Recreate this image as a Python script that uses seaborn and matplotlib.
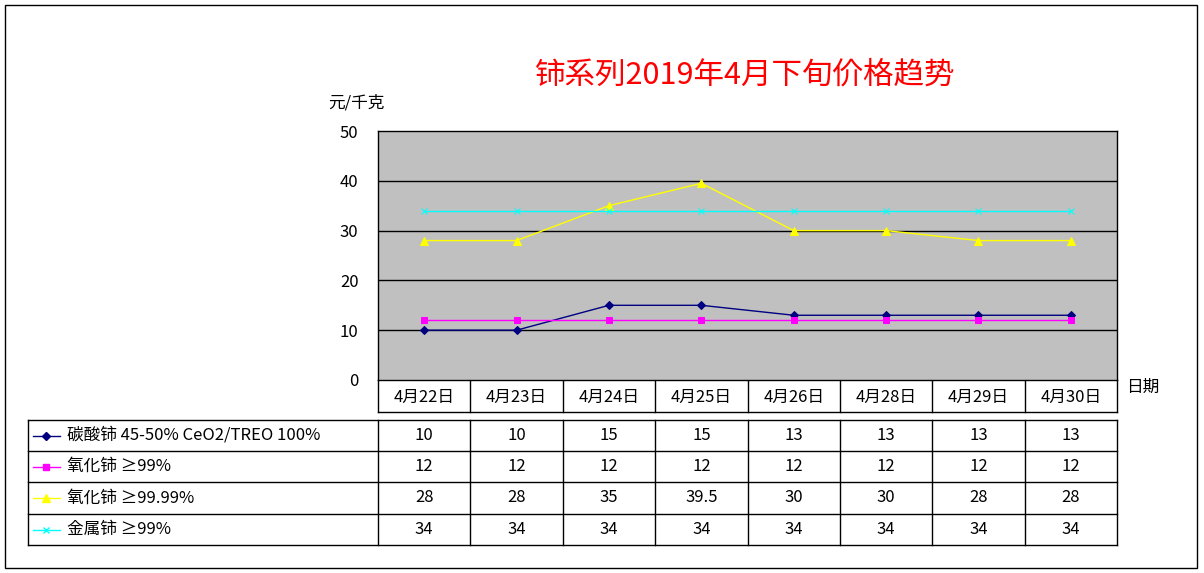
import matplotlib
matplotlib.use("Agg")
import matplotlib.pyplot as plt
from matplotlib import font_manager as fm
import seaborn as sns
import pandas as pd

dates = ["4月22日","4月23日","4月24日","4月25日","4月26日","4月28日","4月29日","4月30日"]
series_names = ["碳酸铈 45-50% CeO2/TREO 100%", "氧化铈 ≥99%", "氧化铈 ≥99.99%", "金属铈 ≥99%"]
ce_carbonate = [10,10,15,15,13,13,13,13]
ce_oxide_99 = [12,12,12,12,12,12,12,12]
ce_oxide_9999 = [28,28,35,39.5,30,30,28,28]
ce_metal = [34,34,34,34,34,34,34,34]
value_labels = [["10","10","15","15","13","13","13","13"],
                ["12"]*8,
                ["28","28","35","39.5","30","30","28","28"],
                ["34"]*8]
colors = ["#000080","#FF00FF","#FFFF00","#00FFFF"]
markers = ["D","s","^","x"]
msizes = [4,5,6,5]

cjk = [f.name for f in fm.fontManager.ttflist if "CJK" in f.name]
pref = [n for n in cjk if "SC" in n] or cjk
fam = pref[0] if pref else "DejaVu Sans"
plt.rcParams["font.family"] = [fam, "DejaVu Sans"]

W,H = 1204,573
fig = plt.figure(figsize=(W/100,H/100), dpi=100)
fig.patch.set_facecolor("white")

ov = fig.add_axes([0,0,1,1])
ov.set_xlim(0,W); ov.set_ylim(H,0); ov.axis("off")
ov.add_patch(plt.Rectangle((5,5),1192,563,fill=False,ec="black",lw=1))

x0,x1,yt,yb = 378,1117,131,380
ax = fig.add_axes([x0/W,1-yb/H,(x1-x0)/W,(yb-yt)/H])
ax.set_facecolor("#C0C0C0")
df = pd.DataFrame({"x":list(range(8))*4,
                   "v":ce_carbonate+ce_oxide_99+ce_oxide_9999+ce_metal,
                   "s":sum([[n]*8 for n in series_names],[])})
for i,n in enumerate(series_names):
    d = df[df.s==n]
    sns.lineplot(data=d,x="x",y="v",ax=ax,color=colors[i],marker=markers[i],
                 markersize=msizes[i],markeredgecolor=colors[i],lw=1,legend=False)
ax.set_xlim(-0.5,7.5); ax.set_ylim(0,50)
ax.set_yticks([0,10,20,30,40,50])
ax.set_yticklabels(["0","10","20","30","40","50"],fontsize=12)
ax.tick_params(axis="y",length=0,pad=14)
ax.set_xticks([]); ax.set_xlabel(""); ax.set_ylabel("")
for y in [10,20,30,40]:
    ax.axhline(y,color="black",lw=1,zorder=0)
for s in ax.spines.values():
    s.set_color("black"); s.set_linewidth(1)

fig.text(745/W,1-75/H,"铈系列2019年4月下旬价格趋势",color="#FF0000",fontsize=22,
         ha="center",va="center")
fig.text(356/W,1-103/H,"元/千克",fontsize=12,ha="center",va="center")
fig.text(1143/W,1-387/H,"日期",fontsize=12,ha="center",va="center")

cw = (x1-x0)/8
ov.plot([x0,x1],[412,412],color="black",lw=1)
for k in range(9):
    ov.plot([x0+k*cw]*2,[380,412],color="black",lw=1)
for k,dl in enumerate(dates):
    ov.text(x0+(k+0.5)*cw,397,dl,ha="center",va="center",fontsize=12)
rows = [420,451,482,514,545]
for y in rows:
    ov.plot([28,x1],[y,y],color="black",lw=1)
ov.plot([28,28],[420,545],color="black",lw=1)
for k in range(9):
    ov.plot([x0+k*cw]*2,[420,545],color="black",lw=1)
for r,n in enumerate(series_names):
    yc = (rows[r]+rows[r+1])/2
    ov.plot([33,60],[yc,yc],color=colors[r],lw=1)
    ov.plot([46],[yc],marker=markers[r],color=colors[r],markersize=msizes[r])
    ov.text(67,yc,n,ha="left",va="center",fontsize=12)
    for k,v in enumerate(value_labels[r]):
        ov.text(x0+(k+0.5)*cw,yc,v,ha="center",va="center",fontsize=12)

fig.savefig("out.png",dpi=100,facecolor="white")
